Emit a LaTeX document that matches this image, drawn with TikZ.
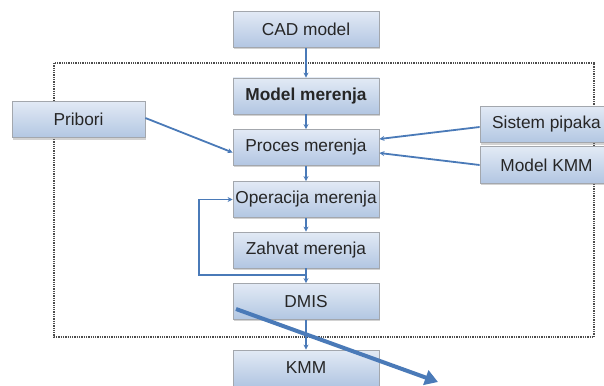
\documentclass[tikz,border=0pt]{standalone}
\usepackage{fontspec}
\setmainfont{Liberation Sans}
\usepackage{tikz}
\usetikzlibrary{calc,shadows,arrows.meta}

\definecolor{plava}{HTML}{4A7AB8}
\definecolor{svetla}{HTML}{E2EAF5}
\definecolor{tamna}{HTML}{B2C6E2}
\definecolor{ivica}{HTML}{A3A7AD}

\tikzset{
  blok/.style={rectangle, draw=ivica, line width=0.8pt,
    top color=svetla, bottom color=tamna,
    minimum width=146pt, minimum height=36pt, inner sep=0pt,
    text=black!85, font=\fontsize{17.3}{20}\selectfont,
    drop shadow={opacity=0.35, shadow xshift=1pt, shadow yshift=-1.8pt}},
  bocni/.style={blok, minimum width=133pt, minimum height=36.5pt},
  strelica/.style={draw=plava, line width=1.8pt, -{Stealth[length=5pt,width=5pt]}},
  velika/.style={draw=plava, line width=4pt, -{Triangle[length=13pt,width=15pt]}}
}

\begin{document}
\begin{tikzpicture}[x=1pt,y=-1pt]
	\clip (0,0) rectangle (604,385);
	\fill[white] (0,0) rectangle (604,385);

	% okvir
	\draw[black!70, densely dotted, line width=1.3pt] (54,63) rectangle (594,337);

	\node [blok](cad) at (306,29.5) {CAD model};
	\node [blok](mm) at (306,96) {\bfseries Model merenja};
	\node [blok](proces) at (306,147.5) {Proces merenja};
	\node [blok](oper) at (306,199.5) {Operacija merenja};
	\node [blok](zahvat) at (306,250) {Zahvat merenja};
	\node [blok](dmis) at (306,301.5) {DMIS};
	\node [blok](kmm) at (306,368) {KMM};
	\node [bocni](pribori) at (78.5,119.5) {Pribori};
	\node [bocni](sistem) at (546.5,124.5) {Sistem pipaka};
	\node [bocni](modelkmm) at (546.5,165) {Model KMM};

	\draw [strelica] (cad.south) to (mm.north);
	\draw [strelica] (mm.south) to (proces.north);
	\draw [strelica] (proces.south) to (oper.north);
	\draw [strelica] (oper.south) to (zahvat.north);
	\draw [strelica] (zahvat.south) to (dmis.north);
	\draw [strelica] (dmis.south) to (kmm.north);

	\draw [strelica] ($(pribori.east)+(0,-1.5)$) to ($(proces.west)+(0,5)$);
	\draw [strelica] ($(sistem.west)+(0,2.5)$) to ($(proces.east)+(0,-8.5)$);
	\draw [strelica] (modelkmm.west) to ($(proces.east)+(0,5.5)$);

	% povratna petlja
	\coordinate (ugao) at (199,275);
	\draw [strelica] (ugao -| dmis.north) to (ugao) |- (oper.west);

	\coordinate (pocetak) at (236,309);
	\coordinate (kraj) at (438,382);
	\draw [velika] (pocetak) to (kraj);
\end{tikzpicture}
\end{document}
